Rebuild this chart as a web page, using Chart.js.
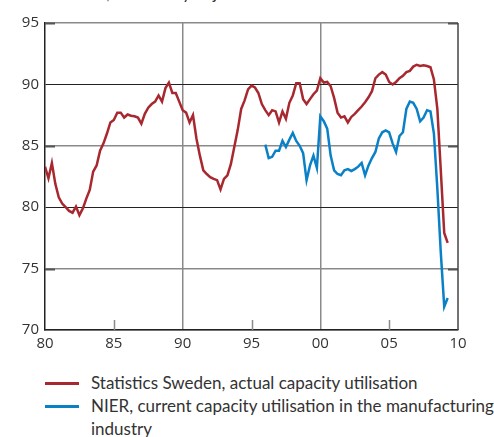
<!DOCTYPE html>
<html lang="en">
<head>
    <meta charset="UTF-8">
    <title>Capacity utilisation</title>
    <style>
        body { margin: 0; background: #fff; font-family: "Open Sans", sans-serif; color: #333; }
        #wrap { position: relative; width: 494px; height: 437px; overflow: hidden; }
        #unit { position: absolute; left: 45px; top: -16px; font-family: Lato, sans-serif; font-size: 17px; line-height: 17px; white-space: nowrap; }
        #box { position: absolute; left: 0; top: 0; width: 494px; height: 356px; }
        #legend { position: absolute; left: 45px; top: 371px; width: 452px; font-family: Lato, sans-serif; font-size: 17px; line-height: 23px; }
        .row { display: flex; align-items: flex-start; }
        .swatch { width: 34px; height: 3px; margin-top: 11px; margin-right: 12px; flex: none; }
    </style>
</head>
<body>
<div id="wrap">
    <div id="unit">Per cent, seasonally adjusted</div>
    <div id="box"><canvas id="myChart"></canvas></div>
    <div id="legend"></div>
</div>

<script src="https://cdn.jsdelivr.net/npm/chart.js"></script>
<script>
    // quarterly values, first value = Q1 of start year
    const redStart = 1980;
    const redLabel = 'Statistics Sweden, actual capacity utilisation';
    const redValues = [
        83.3, 82.35, 83.6, 81.9, 80.8, 80.3, 80.0, 79.7, 79.55, 80.05,
        79.35, 79.9, 80.7, 81.4, 82.9, 83.4, 84.6, 85.2, 86.0, 86.9,
        87.1, 87.7, 87.7, 87.3, 87.55, 87.45, 87.4, 87.3, 86.8, 87.6,
        88.1, 88.4, 88.6, 89.1, 88.6, 89.7, 90.15, 89.3, 89.3, 88.6,
        87.9, 87.7, 86.9, 87.5, 85.6, 84.2, 83.0, 82.7, 82.45, 82.3,
        82.2, 81.45, 82.3, 82.6, 83.5, 84.9, 86.3, 88.0, 88.7, 89.6,
        89.9, 89.75, 89.3, 88.4, 87.9, 87.5, 87.9, 87.8, 86.9, 87.8,
        87.2, 88.5, 89.1, 90.1, 90.1, 88.8, 88.4, 88.8, 89.2, 89.5,
        90.5, 90.15, 90.2, 89.85, 88.9, 87.7, 87.3, 87.4, 86.9, 87.35,
        87.6, 87.9, 88.2, 88.55, 88.95, 89.45, 90.5, 90.8, 91.0, 90.8,
        90.2, 90.0, 90.2, 90.5, 90.7, 91.0, 91.1, 91.45, 91.6, 91.5,
        91.55, 91.5, 91.4, 90.4, 88.0, 83.0, 77.9, 77.1
    ];

    const blueStart = 1996;
    const blueLabel = 'NIER, current capacity utilisation in the manufacturing industry';
    const blueValues = [
        85.1, 84.0, 84.1, 84.6, 84.6, 85.4, 84.9, 85.5, 86.05, 85.4,
        85.0, 84.4, 82.2, 83.4, 84.2, 83.2, 87.4, 87.0, 86.4, 84.2,
        83.0, 82.7, 82.6, 83.0, 83.1, 82.95, 83.1, 83.3, 83.6, 82.6,
        83.4, 84.0, 84.5, 85.6, 86.1, 86.25, 86.1, 85.2, 84.5, 85.8,
        86.1, 88.0, 88.6, 88.5, 88.0, 87.0, 87.3, 87.9, 87.8, 86.0,
        81.5, 76.3, 71.9, 72.6
    ];

    const xMin = 1980, xMax = 2010;
    const yMin = 70, yMax = 95;
    const darkGrid = [80, 90];      // black horizontal lines
    const fullVertical = [1990, 2000];
    const shortTicks = [1985, 1995, 2005];

    const redColor = '#a8282f';
    const blueColor = '#0a80c6';
    const greyLine = '#8a8a8a';
    const darkLine = '#222';

    function toPoints(start, values) {
        return values.map((v, i) => ({ x: start + i / 4, y: v }));
    }

    // short inside ticks on x axis, right frame, small marks at ends of grey lines
    const extras = {
        id: 'extras',
        beforeDatasetsDraw(chart) {
            const { ctx, chartArea: a, scales: { x, y } } = chart;
            ctx.save();
            ctx.strokeStyle = greyLine;
            ctx.lineWidth = 1.5;
            shortTicks.forEach(t => {
                const px = Math.round(x.getPixelForValue(t)) + 0.5;
                ctx.beginPath();
                ctx.moveTo(px, a.bottom);
                ctx.lineTo(px, a.bottom - 10);
                ctx.stroke();
            });
            ctx.strokeStyle = '#555';
            ctx.lineWidth = 2;
            [75, 85, 95].forEach(v => {
                const py = Math.round(y.getPixelForValue(v)) + 0.5;
                ctx.beginPath();
                ctx.moveTo(a.left, py); ctx.lineTo(a.left + 10, py);
                ctx.moveTo(a.right - 10, py); ctx.lineTo(a.right, py);
                ctx.stroke();
            });
            ctx.strokeStyle = '#444';
            ctx.lineWidth = 1.5;
            ctx.beginPath();
            ctx.moveTo(a.right, a.top);
            ctx.lineTo(a.right, a.bottom);
            ctx.stroke();
            ctx.restore();
        }
    };

    const ctx = document.getElementById('myChart').getContext('2d');
    const myChart = new Chart(ctx, {
        type: 'line',
        data: {
            datasets: [{
                label: redLabel,
                data: toPoints(redStart, redValues),
                borderColor: redColor,
                borderWidth: 2.5,
                pointRadius: 0,
                tension: 0
            }, {
                label: blueLabel,
                data: toPoints(blueStart, blueValues),
                borderColor: blueColor,
                borderWidth: 2.5,
                pointRadius: 0,
                tension: 0
            }]
        },
        options: {
            responsive: true,
            maintainAspectRatio: false,
            animation: false,
            layout: { padding: { top: 23, right: 36, left: 0, bottom: 0 } },
            plugins: { legend: { display: false }, tooltip: { enabled: false } },
            scales: {
                x: {
                    type: 'linear',
                    min: xMin, max: xMax,
                    afterFit(scale) { scale.height = 26; },
                    ticks: {
                        stepSize: 5,
                        padding: 5,
                        color: '#333',
                        font: { family: 'Open Sans', size: 15 },
                        callback: v => String(v % 100).padStart(2, '0')
                    },
                    grid: {
                        drawTicks: false,
                        color: c => fullVertical.includes(c.tick.value) ? greyLine : 'rgba(0,0,0,0)',
                        lineWidth: 1.5
                    },
                    border: { color: darkLine, width: 1.5 }
                },
                y: {
                    min: yMin, max: yMax,
                    afterFit(scale) { scale.width = 45; },
                    ticks: {
                        stepSize: 5,
                        padding: 6,
                        color: '#333',
                        font: { family: 'Open Sans', size: 15 }
                    },
                    grid: {
                        drawTicks: false,
                        color: c => darkGrid.includes(c.tick.value) ? darkLine : greyLine,
                        lineWidth: c => darkGrid.includes(c.tick.value) ? 1 : 1.5
                    },
                    border: { color: darkLine, width: 1.5 }
                }
            }
        },
        plugins: [extras]
    });

    // html legend so the long label can wrap
    const legend = document.getElementById('legend');
    myChart.data.datasets.forEach(ds => {
        const row = document.createElement('div');
        row.className = 'row';
        row.innerHTML = '<span class="swatch" style="background:' + ds.borderColor + '"></span><span>' + ds.label + '</span>';
        legend.appendChild(row);
    });
</script>
</body>
</html>
